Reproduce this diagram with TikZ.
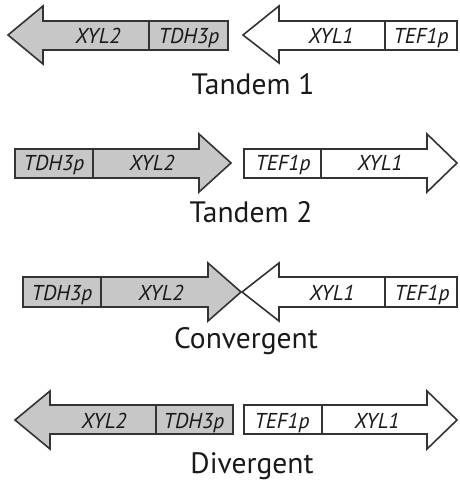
\documentclass[tikz,border=0pt]{standalone}
\usepackage{fontspec}
\setmainfont{PT Sans}
\begin{document}
\begin{tikzpicture}[x=1pt,y=-1pt,
  gene/.style={draw=black!80,line width=1.6pt,line join=miter},
  graygene/.style={gene,fill=black!22},
  whitegene/.style={gene,fill=white},
  div/.style={draw=black!80,line width=1.4pt},
  lab/.style={font=\fontsize{21.5}{21.5}\selectfont\itshape,anchor=base,inner sep=0pt,text=black!90},
  caption/.style={font=\fontsize{29.5}{29.5}\selectfont,anchor=base,inner sep=0pt,text=black!90}]
\useasboundingbox (0,0) rectangle (459,486);
% ---- Tandem 1 ----
\path[graygene] (228,21) -- (43,21) -- (43,6) -- (8,35) -- (43,64) -- (43,50) -- (228,50) -- cycle;
\draw[div] (149,21) -- (149,50);
\node[lab] (t1a) at (98,44) {XYL2};
\node[lab] (t1b) at (189,44) {TDH3p};
\path[whitegene] (457,21) -- (279,21) -- (279,6) -- (243,35) -- (279,63) -- (279,50) -- (457,50) -- cycle;
\draw[div] (385,21) -- (385,50);
\node[lab] (t1c) at (331,44) {XYL1};
\node[lab] (t1d) at (421,44) {TEF1p};
\node[caption] (t1) at (253,95) {Tandem 1};
% ---- Tandem 2 ----
\path[graygene] (15,149) -- (199,149) -- (199,134) -- (231,163) -- (199,192) -- (199,178) -- (15,178) -- cycle;
\draw[div] (93,149) -- (93,178);
\node[lab] (t2a) at (54,171) {TDH3p};
\node[lab] (t2b) at (152,171) {XYL2};
\path[whitegene] (244,149) -- (427,149) -- (427,134) -- (457,163) -- (427,192) -- (427,178) -- (244,178) -- cycle;
\draw[div] (321,149) -- (321,178);
\node[lab] (t2c) at (283,171) {TEF1p};
\node[lab] (t2d) at (380,171) {XYL1};
\node[caption] (t2) at (251,222) {Tandem 2};
% ---- Convergent ----
\path[graygene] (23,277) -- (208,277) -- (208,263) -- (241,292) -- (208,321) -- (208,307) -- (23,307) -- cycle;
\draw[div] (101,277) -- (101,307);
\node[lab] (c1) at (62,300) {TDH3p};
\node[lab] (c2) at (161,300) {XYL2};
\path[whitegene] (457,277) -- (279,277) -- (279,263) -- (242,292) -- (279,321) -- (279,307) -- (457,307) -- cycle;
\draw[div] (385,277) -- (385,307);
\node[lab] (c3) at (332,300) {XYL1};
\node[lab] (c4) at (422,300) {TEF1p};
\node[caption] (cv) at (246,348) {Convergent};
% ---- Divergent ----
\path[graygene] (233,405) -- (50,405) -- (50,391) -- (15,420) -- (50,449) -- (50,434) -- (233,434) -- cycle;
\draw[div] (156,405) -- (156,434);
\node[lab] (d1) at (104,428) {XYL2};
\node[lab] (d2) at (194,428) {TDH3p};
\path[whitegene] (244,405) -- (427,405) -- (427,391) -- (457,420) -- (427,449) -- (427,434) -- (244,434) -- cycle;
\draw[div] (322,405) -- (322,434);
\node[lab] (d3) at (282,428) {TEF1p};
\node[lab] (d4) at (377,428) {XYL1};
\node[caption] (dv) at (252,473) {Divergent};
\end{tikzpicture}
\end{document}
